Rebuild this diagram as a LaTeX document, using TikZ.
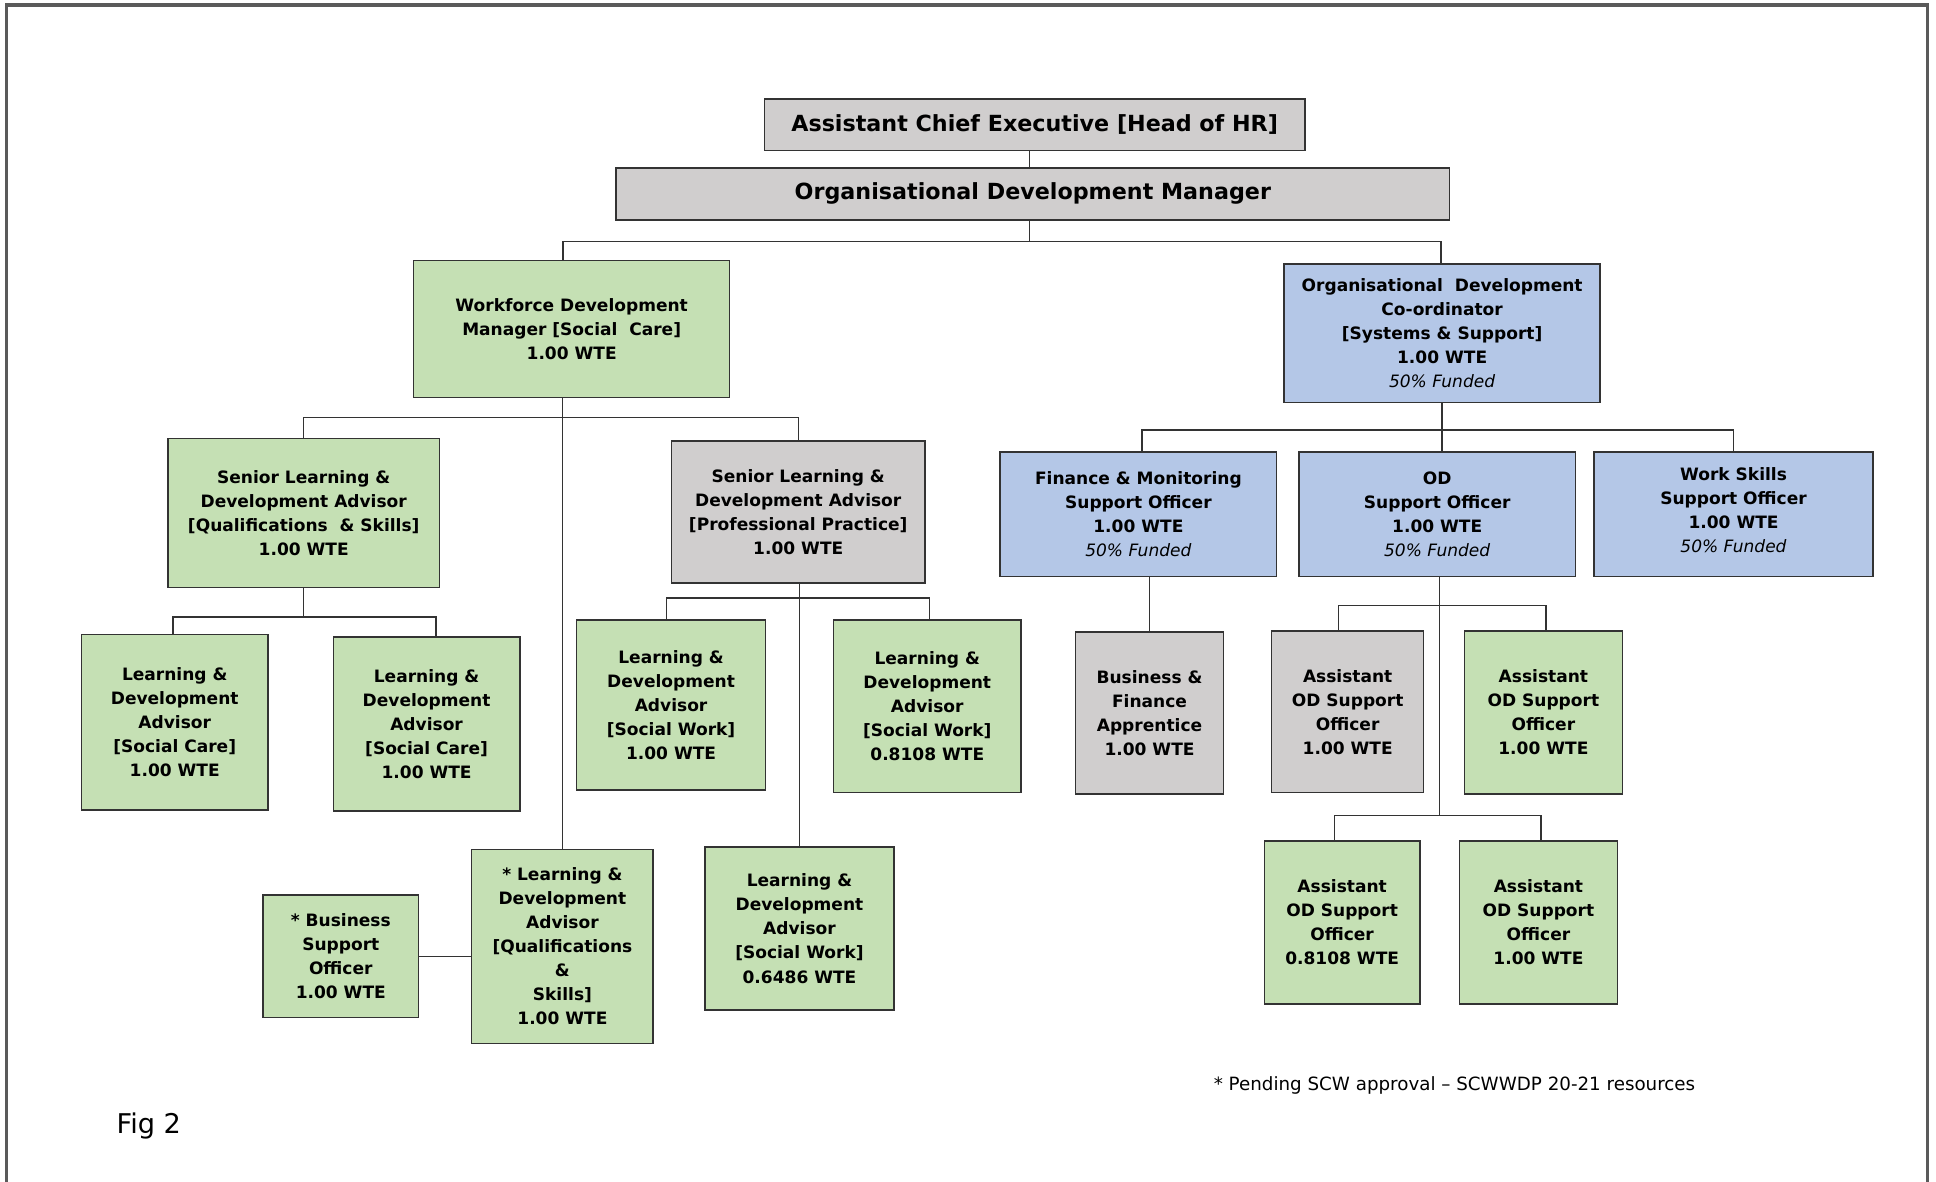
\documentclass[tikz,border=0pt]{standalone}
\usepackage{fontspec}
\setmainfont{DejaVu Sans}
\definecolor{postgreen}{HTML}{C5E0B4}
\definecolor{postblue}{HTML}{B4C7E7}
\definecolor{postgrey}{HTML}{D0CECE}
\definecolor{framegrey}{HTML}{5A5A5A}
\definecolor{inkgrey}{HTML}{333333}
\begin{document}
\begin{tikzpicture}[x=1pt, y=-1pt,
        post/.style={draw=inkgrey, line width=1.2pt, inner sep=0pt, align=center,
            font=\bfseries\fontsize{13.8}{19.5}\selectfont},
        greenpost/.style={post, fill=postgreen},
        bluepost/.style={post, fill=postblue},
        greypost/.style={post, fill=postgrey},
        headpost/.style={greypost, font=\bfseries\fontsize{18}{20}\selectfont},
        link/.style={draw=inkgrey, line width=1.1pt}]
            \useasboundingbox (0,0) rectangle (1568,957);
            \fill[white] (0,0) rectangle (1568,957);
            \draw[framegrey, line width=2.6pt] (5,957) -- (5,4) -- (1561,4) -- (1561,957);

            \draw (838,101) node[headpost, minimum width=438, minimum height=42] (ace) {Assistant Chief Executive [Head of HR]};
            \draw (836.5,157) node[headpost, minimum width=675, minimum height=42] (odm) {Organisational Development Manager};

            \draw (463,266.5) node[greenpost, minimum width=256, minimum height=111] (wdm) {Workforce Development\\Manager [Social\ \ Care]\\1.00 WTE};
            \draw (1168,270) node[bluepost, minimum width=256, minimum height=112] (odc) {Organisational\ \ Development\\Co-ordinator\\{[}Systems \& Support]\\1.00 WTE\\\textmd{\itshape 50\% Funded}};

            \draw (246,415.5) node[greenpost, minimum width=220, minimum height=121] (sldaqs) {Senior Learning \&\\Development Advisor\\{[}Qualifications\ \ \& Skills]\\1.00 WTE};
            \draw (646.5,414.5) node[greypost, minimum width=205, minimum height=115] (sldapp) {Senior Learning \&\\Development Advisor\\{[}Professional Practice]\\1.00 WTE};

            \draw (141.5,585) node[greenpost, minimum width=151, minimum height=142] (ldasc1) {Learning \&\\Development\\Advisor\\{[}Social Care]\\1.00 WTE};
            \draw (345.5,586.5) node[greenpost, minimum width=151, minimum height=141] (ldasc2) {Learning \&\\Development\\Advisor\\{[}Social Care]\\1.00 WTE};
            \draw (543.5,571) node[greenpost, minimum width=153, minimum height=138] (ldasw1) {Learning \&\\Development\\Advisor\\{[}Social Work]\\1.00 WTE};
            \draw (751,572) node[greenpost, minimum width=152, minimum height=140] (ldasw2) {Learning \&\\Development\\Advisor\\{[}Social Work]\\0.8108 WTE};
            \draw (647.5,752) node[greenpost, minimum width=153, minimum height=132] (ldasw3) {Learning \&\\Development\\Advisor\\{[}Social Work]\\0.6486 WTE};
            \draw (455.5,766.5) node[greenpost, minimum width=147, minimum height=157] (ldaqs) {* Learning \&\\Development\\Advisor\\{[}Qualifications\\\&\\Skills]\\1.00 WTE};
            \draw (276,774.5) node[greenpost, minimum width=126, minimum height=99] (bso) {* Business\\Support\\Officer\\1.00 WTE};

            \draw (922,416.5) node[bluepost, minimum width=224, minimum height=101] (fmso) {Finance \& Monitoring\\Support Officer\\1.00 WTE\\\textmd{\itshape 50\% Funded}};
            \draw (1164,416.5) node[bluepost, minimum width=224, minimum height=101] (odso) {OD\\Support Officer\\1.00 WTE\\\textmd{\itshape 50\% Funded}};
            \draw (1404,416.5) node[bluepost, minimum width=226, minimum height=101] (wsso) {Work Skills\\Support Officer\\1.00 WTE\\\textmd{\itshape 50\% Funded}\\[-12.5pt]};

            \draw (931,577.5) node[greypost, minimum width=120, minimum height=131] (bfa) {Business \&\\Finance\\Apprentice\\1.00 WTE};
            \draw (1091.5,576.5) node[greypost, minimum width=123, minimum height=131] (aodso1) {Assistant\\OD Support\\Officer\\1.00 WTE};
            \draw (1250,577) node[greenpost, minimum width=128, minimum height=132] (aodso2) {Assistant\\OD Support\\Officer\\1.00 WTE};
            \draw (1087,747) node[greenpost, minimum width=126, minimum height=132] (aodso3) {Assistant\\OD Support\\Officer\\0.8108 WTE};
            \draw (1246,747) node[greenpost, minimum width=128, minimum height=132] (aodso4) {Assistant\\OD Support\\Officer\\1.00 WTE};

            \draw (1178,879) node[font=\fontsize{14.8}{17}\selectfont] (note) {* Pending SCW approval -- SCWWDP 20-21 resources};
            \draw (120.5,912) node[font=\fontsize{22}{25}\selectfont] (fig) {Fig 2};

            \draw[link] ([xshift=-4]ace.south) -- ([xshift=-2.5]odm.north);
            \draw[link] ([xshift=-2.5]odm.south) -- ++(0,17) coordinate (odmbar);
            \draw[link] ([xshift=-7]wdm.north) |- (odmbar) -| ([xshift=-1]odc.north);

            \draw[link] (wdm.south -| ldaqs.north) -- (ldaqs.north);
            \draw[link] (sldaqs.north) -- ++(0,-16) -| (sldapp.north);
            \draw[link] (sldaqs.south) -- ++(0,23) coordinate (qsbar);
            \draw[link] ([xshift=-1.5]ldasc1.north) |- (qsbar) -| ([xshift=7.5]ldasc2.north);
            \draw[link] (sldapp.south -| ldasw3.north) -- (ldasw3.north);
            \draw[link] ([xshift=-3.5]ldasw1.north) -- ++(0,-17) -| ([xshift=2]ldasw2.north);
            \draw[link] (bso.east) -- (bso.east -| ldaqs.west);

            \draw[link] (odc.south) -- (odc.south |- odso.north);
            \draw[link] ([xshift=3]fmso.north) -- ++(0,-17) -| (wsso.north);
            \draw[link] (bfa.north) -- (bfa.north |- fmso.south);
            \draw[link] ([xshift=2]odso.south) -- ++(0,193) coordinate (odsobar);
            \draw[link] ([xshift=-7.5]aodso1.north) -- ++(0,-20) -| ([xshift=2]aodso2.north);
            \draw[link] ([xshift=-6]aodso3.north) |- (odsobar) -| ([xshift=2]aodso4.north);
        \end{tikzpicture}
\end{document}
